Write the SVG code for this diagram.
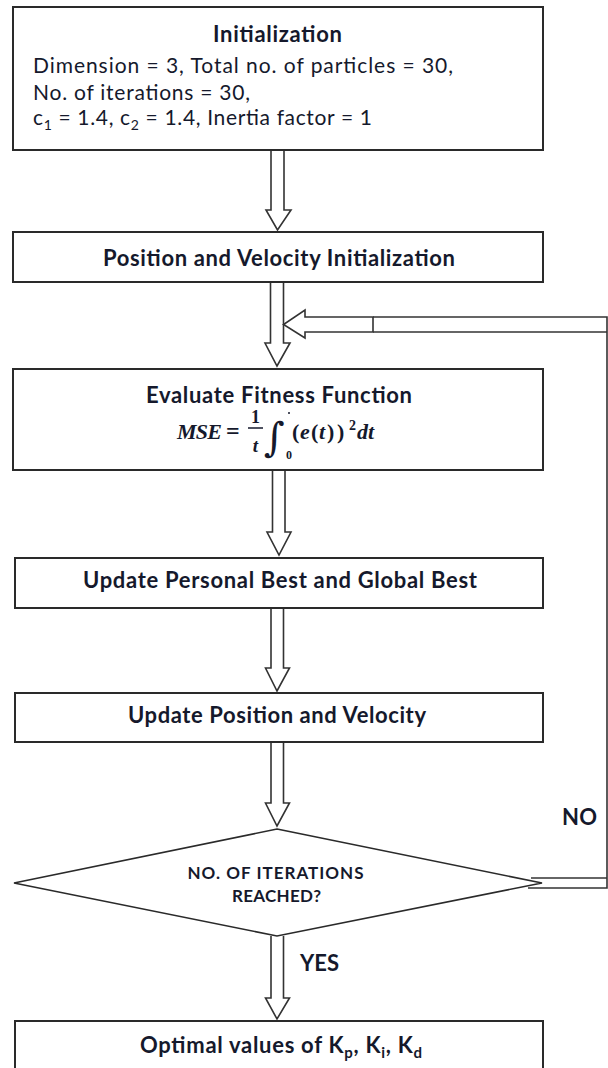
<svg xmlns="http://www.w3.org/2000/svg" width="608" height="1068" viewBox="0 0 608 1068">
  <style>
    .box { fill: #ffffff; stroke: #2a2a2a; stroke-width: 2; }
    .dia { fill: #ffffff; stroke: #2a2a2a; stroke-width: 1.6; }
    .arrow { fill: #ffffff; stroke: #333333; stroke-width: 1.6; stroke-linejoin: miter; }
    .wire { fill: none; stroke: #333333; stroke-width: 1.6; }
    .t { font-family: Lato, "Open Sans", "Liberation Sans", sans-serif; fill: #15192c; }
    .b { font-weight: bold; font-size: 22px; }
    .r { font-size: 21px; }
    .q { font-weight: bold; font-size: 17px; }
    .m { font-family: "Liberation Serif", "DejaVu Serif", serif; font-weight: bold; font-style: italic; fill: #15192c; }
    .mu { font-family: "Liberation Serif", "DejaVu Serif", serif; font-weight: bold; font-style: normal; fill: #15192c; }
  </style>

  <!-- loop-back connector and block arrows -->
  <g id="connectors">
    <!-- Initialization -> Position and Velocity Initialization -->
    <path class="arrow" d="M271,150 V210 H266 L277.5,230 L291,210 H284 V150"/>
    <!-- Position and Velocity Initialization -> Evaluate -->
    <path class="arrow" d="M270.5,282 V343 H265 L277,366 L290,343 H283.5 V282"/>
    <!-- Evaluate -> Update Personal Best -->
    <path class="arrow" d="M272.5,470 V532 H267 L279,555 L291,532 H285 V470"/>
    <!-- Update Personal Best -> Update Position -->
    <path class="arrow" d="M271,608 V668 H265.5 L277,691 L289.5,668 H283.5 V608"/>
    <!-- Update Position -> decision -->
    <path class="arrow" d="M271,742 V803 H265.5 L277,826 L289.5,803 H283.5 V742"/>
    <!-- decision YES -> result -->
    <path class="arrow" d="M271,936 V998 H265.5 L277,1019 L289.5,998 H283.5 V936"/>
    <!-- NO branch back to fitness evaluation -->
    <path class="arrow" d="M373,317 H305 V310 L283.5,324.5 L305,338 V332 H373 Z"/>
    <path class="wire" d="M373,317 H607 V888 H528"/>
    <path class="wire" d="M373,332 H607"/>
    <path class="wire" d="M531,878 H607"/>
  </g>

  <g id="init">
    <rect class="box" x="13" y="7" width="530" height="143"/>
    <text class="t b" x="277.5" y="42" text-anchor="middle" textLength="129">Initialization</text>
    <text class="t r" x="33" y="73" textLength="420">Dimension = 3, Total no. of particles = 30,</text>
    <text class="t r" x="33" y="100" textLength="217">No. of iterations = 30,</text>
    <text class="t r" x="33" y="125" textLength="339">c<tspan dy="5" font-size="14">1</tspan><tspan dy="-5"> = 1.4, c</tspan><tspan dy="5" font-size="14">2</tspan><tspan dy="-5"> = 1.4, Inertia factor = 1</tspan></text>
  </g>

  <g id="pos-init">
    <rect class="box" x="13" y="232" width="530" height="50"/>
    <text class="t b" x="279" y="266" text-anchor="middle" textLength="352">Position and Velocity Initialization</text>
  </g>

  <g id="fitness">
    <rect class="box" x="13" y="369" width="530" height="101"/>
    <text class="t b" x="279" y="403" text-anchor="middle" textLength="266">Evaluate Fitness Function</text>
    <!-- MSE = (1/t) integral from 0 of (e(t))^2 dt -->
    <text class="m" x="177" y="439" font-size="22" textLength="45">MSE</text>
    <text class="mu" x="226" y="439" font-size="24" textLength="17">=</text>
    <text class="mu" x="255.5" y="423" font-size="18" text-anchor="middle">1</text>
    <line x1="248" y1="428" x2="263" y2="428" stroke="#15192c" stroke-width="1.5"/>
    <text class="m" x="255.5" y="452" font-size="19" text-anchor="middle">t</text>
    <text x="264" y="451" font-family="'DejaVu Serif', serif" font-size="40" fill="#15192c">∫</text>
    <circle cx="289" cy="413" r="1" fill="#15192c"/>
    <text class="mu" x="286" y="459" font-size="12">0</text>
    <text class="m" y="439" font-size="22"><tspan class="mu" x="292">(</tspan><tspan x="300">e</tspan><tspan class="mu" x="311">(</tspan><tspan x="319">t</tspan><tspan class="mu" x="327">)</tspan><tspan class="mu" x="337">)</tspan></text>
    <text class="mu" x="349" y="430" font-size="14">2</text>
    <text class="m" x="357" y="439" font-size="22">dt</text>
  </g>

  <g id="best">
    <rect class="box" x="15" y="558" width="528" height="50"/>
    <text class="t b" x="280" y="588" text-anchor="middle" textLength="394">Update Personal Best and Global Best</text>
  </g>

  <g id="update">
    <rect class="box" x="15" y="693" width="528" height="49"/>
    <text class="t b" x="277" y="723" text-anchor="middle" textLength="298">Update Position and Velocity</text>
  </g>

  <g id="decision">
    <polygon class="dia" points="277,829 542,883 277,936 14,883"/>
    <text class="t q" x="275.5" y="879" text-anchor="middle" textLength="176">NO. OF ITERATIONS</text>
    <text class="t q" x="276.5" y="902" text-anchor="middle" textLength="89">REACHED?</text>
  </g>

  <g id="labels">
    <text class="t b" x="562" y="825" textLength="35">NO</text>
    <text class="t b" x="300" y="971" textLength="39">YES</text>
  </g>

  <g id="result">
    <rect class="box" x="15" y="1021" width="528" height="50"/>
    <text class="t b" x="140" y="1053" textLength="282">Optimal values of K<tspan dy="5" font-size="15">p</tspan><tspan dy="-5">, K</tspan><tspan dy="5" font-size="15">i</tspan><tspan dy="-5">, K</tspan><tspan dy="5" font-size="15">d</tspan></text>
  </g>
</svg>
